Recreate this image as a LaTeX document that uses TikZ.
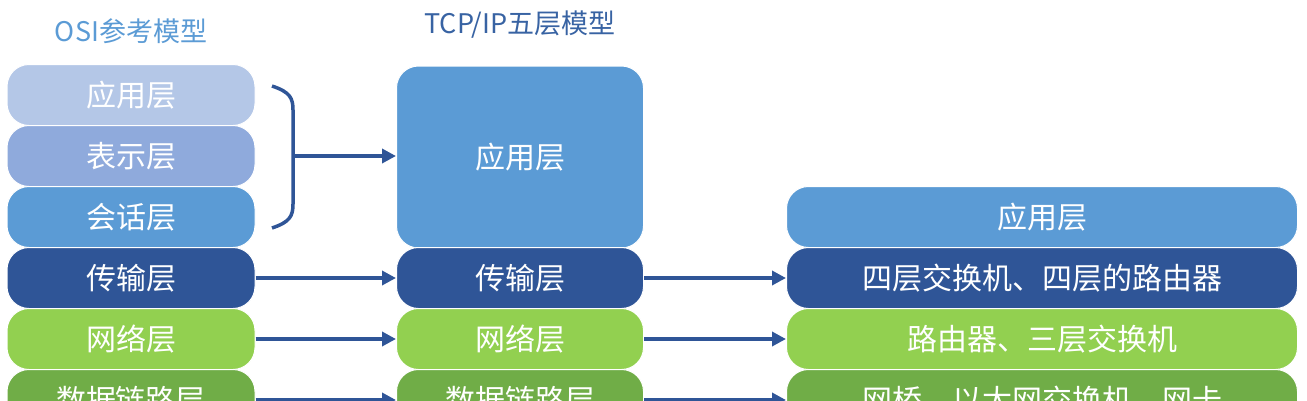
\documentclass[tikz,border=0pt]{standalone}
\usepackage{fontspec}
\setmainfont{Noto Sans CJK SC}
\usetikzlibrary{arrows.meta, positioning}
\definecolor{lyrA}{HTML}{B4C7E7}
\definecolor{lyrB}{HTML}{8FAADC}
\definecolor{lyrC}{HTML}{5B9BD5}
\definecolor{lyrD}{HTML}{2F5597}
\definecolor{lyrE}{HTML}{92D050}
\definecolor{lyrF}{HTML}{70AD47}
\tikzset{
  layer/.style = {rectangle, rounded corners=22pt, draw=white, line width=1pt, text=white, minimum height=61pt, font=\fontsize{30}{32}\selectfont, inner sep=0pt},
  left/.style = {layer, minimum width=248pt},
  mid/.style = {layer, minimum width=247pt},
  far/.style = {layer, minimum width=511pt},
  title/.style = {font=\fontsize{27}{29}\selectfont},
  arrow/.style = {draw=lyrD, line width=3.5pt, -{Triangle[length=14pt, width=14pt]}}
}
\begin{document}
\begin{tikzpicture}[x=1pt, y=-1pt]
	\useasboundingbox (0,0) rectangle (1307,400);
	\clip (0,0) rectangle (1307,400);
	\node (OsiTitle) [title, text=lyrC] at (131,31) {OSI参考模型};
	\node (TcpTitle) [title, text=lyrD!80!lyrC] at (520,25) {TCP/IP五层模型};
	% left column
	\node (OsiApp) [left, fill=lyrA] at (131,95) {应用层};
	\node (OsiPre) [left, fill=lyrB] at (131,156) {表示层};
	\node (OsiSes) [left, fill=lyrC] at (131,217) {会话层};
	\node (OsiTra) [left, fill=lyrD] at (131,278) {传输层};
	\node (OsiNet) [left, fill=lyrE] at (131,339) {网络层};
	\node (OsiDat) [left, fill=lyrF] at (131,400) {数据链路层};
	% middle column
	\node (TcpApp) [mid, fill=lyrC, minimum height=182pt] at (520,157) {应用层};
	\node (TcpTra) [mid, fill=lyrD] at (520,278) {传输层};
	\node (TcpNet) [mid, fill=lyrE] at (520,339) {网络层};
	\node (TcpDat) [mid, fill=lyrF] at (520,400) {数据链路层};
	% right column
	\node (DevApp) [far, fill=lyrC] at (1042,217) {应用层};
	\node (DevTra) [far, fill=lyrD] at (1042,278) {四层交换机、四层的路由器};
	\node (DevNet) [far, fill=lyrE] at (1042,339) {路由器、三层交换机};
	\node (DevDat) [far, fill=lyrF] at (1042,400) {网桥、以太网交换机、网卡};
	% brace
	\coordinate (BraceMid) at (293,156);
	\draw [lyrD, line width=3.5pt] (272,86) .. controls (290,92) and (293,98) .. (293,110) -- (293,204) .. controls (293,216) and (290,222) .. (272,228);
	\draw [arrow] (BraceMid) -- (TcpApp.west |- BraceMid);
	\foreach \a/\b/\c in {OsiTra/TcpTra/DevTra, OsiNet/TcpNet/DevNet, OsiDat/TcpDat/DevDat} {
		\draw [arrow] (\a) -- (\b);
		\draw [arrow] (\b) -- (\c);
	}
\end{tikzpicture}
\end{document}
